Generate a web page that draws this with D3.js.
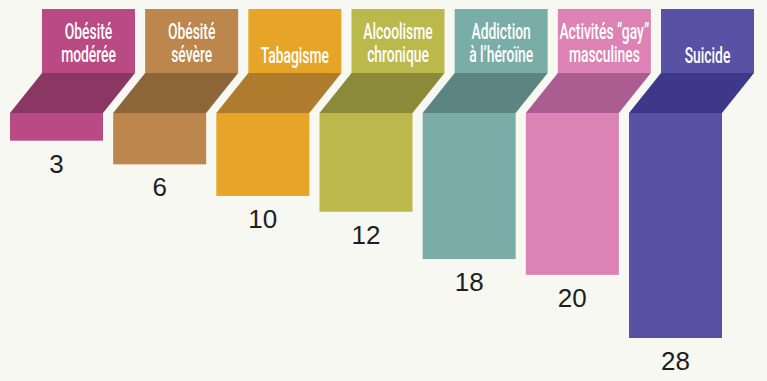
<!DOCTYPE html>
<html>
<head>
<meta charset="utf-8">
<script src="https://cdn.jsdelivr.net/npm/d3@7"></script>
<style>
  html, body { margin: 0; padding: 0; background: #f8f8f3; }
  svg { display: block; }
</style>
</head>
<body>
<div id="chart"></div>
<script>
const categories = ["Obésité modérée", "Obésité sévère", "Tabagisme", "Alcoolisme chronique", "Addiction à l'héroïne", "Activités “gay” masculines", "Suicide"];
const labelLines = [["Obésité", "modérée"], ["Obésité", "sévère"], ["Tabagisme"], ["Alcoolisme", "chronique"], ["Addiction", "à l’héroïne"], ["Activités “gay”", "masculines"], ["Suicide"]];
const values = [3, 6, 10, 12, 18, 20, 28];
const frontColors = ["#b94a83", "#bc864d", "#e6a527", "#bbb94c", "#7aada7", "#dc82b4", "#5752a4"];
const topColors = ["#8b3764", "#8c6639", "#ae7c2c", "#8a8a38", "#5c8581", "#ab5c90", "#3e388b"];

const W = 767, H = 381;
const svg = d3.select("#chart").append("svg").attr("width", W).attr("height", H);
svg.append("rect").attr("width", W).attr("height", H).attr("fill", "#f8f8f3");

const x = d3.scaleBand().domain(categories).range([10, 722]).paddingInner(0.0985);
const bw = x.bandwidth();
const barTop = 113;
const y = d3.scaleLinear().domain([0, 28]).range([117, 338]);
const shift = 32, boxTop = 9, boxBottom = 73;

const data = categories.map((c, i) => ({ c, lines: labelLines[i], v: values[i], front: frontColors[i], top: topColors[i] }));

const g = svg.selectAll("g.item").data(data).join("g").attr("class", "item");

// label box
g.append("rect")
  .attr("x", d => x(d.c) + shift)
  .attr("y", boxTop)
  .attr("width", bw)
  .attr("height", boxBottom - boxTop)
  .attr("fill", d => d.front);

// slanted top face
g.append("path")
  .attr("d", d => {
    const x0 = x(d.c);
    return `M${x0 + shift},${boxBottom}L${x0 + shift + bw},${boxBottom}L${x0 + bw},${barTop}L${x0},${barTop}Z`;
  })
  .attr("fill", d => d.top);

// front bar
g.append("rect")
  .attr("x", d => x(d.c))
  .attr("y", barTop)
  .attr("width", bw)
  .attr("height", d => y(d.v) - barTop)
  .attr("fill", d => d.front);

// value label
g.append("text")
  .attr("x", d => x(d.c) + bw / 2)
  .attr("y", d => y(d.v) + 32)
  .attr("text-anchor", "middle")
  .attr("font-family", "'Liberation Sans', Arial, sans-serif")
  .attr("font-size", 26)
  .attr("fill", "#1e1e1e")
  .text(d => d.v);

// category labels (condensed)
const sx = 0.63;
g.each(function(d) {
  const cx = x(d.c) + shift + bw / 2;
  const t = d3.select(this).append("text")
    .attr("transform", `translate(${cx},0) scale(${sx},1)`)
    .attr("text-anchor", "middle")
    .attr("font-family", "Roboto, sans-serif")
    .attr("font-weight", 500)
    .attr("font-size", 22)
    .attr("fill", "#ffffff");
  const baseY = d.lines.length === 1 ? [63] : [39, 62];
  d.lines.forEach((ln, k) => {
    t.append("tspan").attr("x", 0).attr("y", baseY[k]).text(ln);
  });
});
</script>
</body>
</html>
